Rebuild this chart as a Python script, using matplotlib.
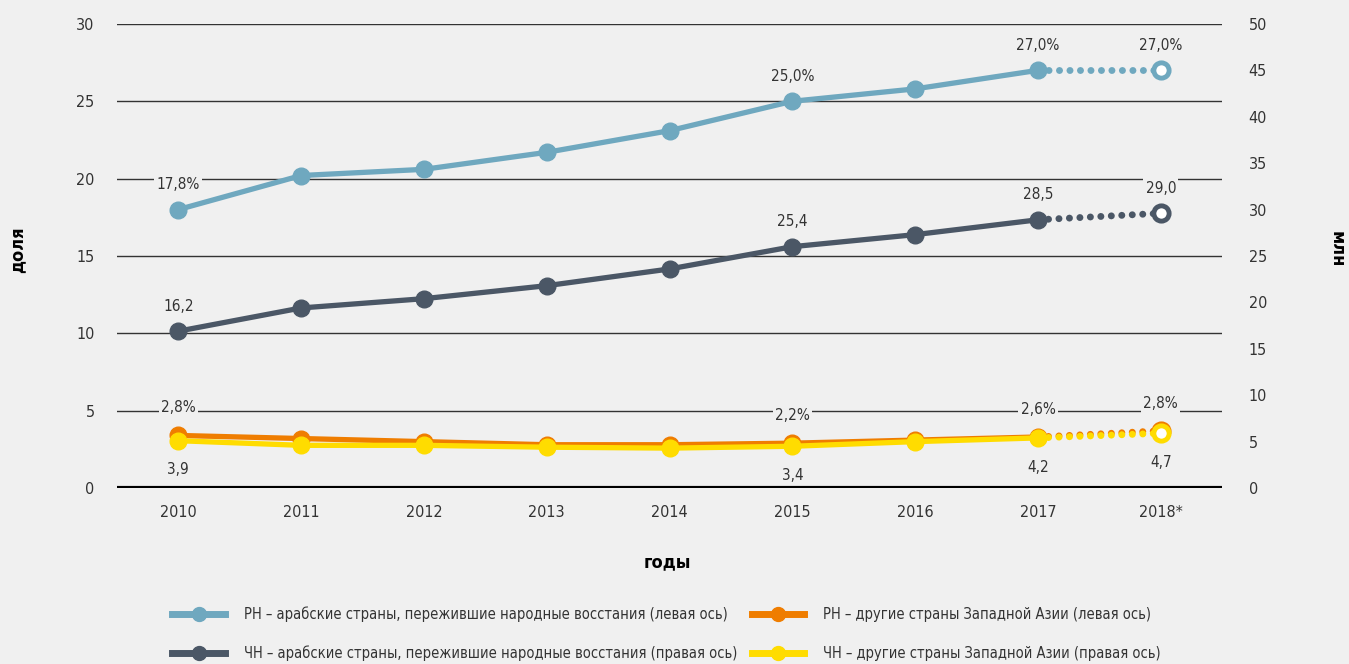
import matplotlib
matplotlib.use('Agg')
import matplotlib.pyplot as plt
from matplotlib.lines import Line2D

plt.rcParams['font.family'] = ['DejaVu Sans']
plt.rcParams['font.stretch'] = 'condensed'

# данные
years = ['2010', '2011', '2012', '2013', '2014', '2015', '2016', '2017', '2018*']
rn_arab = [18.0, 20.2, 20.6, 21.7, 23.1, 25.0, 25.8, 27.0, 27.0]      # левая ось
chn_arab = [16.9, 19.4, 20.4, 21.8, 23.6, 26.0, 27.3, 28.9, 29.6]     # правая ось
rn_other = [3.4, 3.2, 3.0, 2.8, 2.8, 2.9, 3.1, 3.3, 3.7]              # левая ось
chn_other = [5.1, 4.6, 4.6, 4.4, 4.3, 4.5, 5.0, 5.4, 5.9]             # правая ось

rn_arab_lbl = {0: '17,8%', 5: '25,0%', 7: '27,0%', 8: '27,0%'}
chn_arab_lbl = {0: '16,2', 5: '25,4', 7: '28,5', 8: '29,0'}
rn_other_lbl = {0: '2,8%', 5: '2,2%', 7: '2,6%', 8: '2,8%'}
chn_other_lbl = {0: '3,9', 5: '3,4', 7: '4,2', 8: '4,7'}

legend_labels = ['РН – арабские страны, пережившие народные восстания (левая ось)',
                 'ЧН – арабские страны, пережившие народные восстания (правая ось)',
                 'РН – другие страны Западной Азии (левая ось)',
                 'ЧН – другие страны Западной Азии (правая ось)']

c_blue = '#6fa8bf'
c_dark = '#4b5766'
c_orange = '#ef7d00'
c_yellow = '#ffdc00'
bg = '#f0f0f0'

fig = plt.figure(figsize=(13.49, 6.64), dpi=100, facecolor=bg)
ax = fig.add_axes([0.0867, 0.265, 0.8193, 0.699])
ax.set_facecolor(bg)
ax2 = ax.twinx()

x = list(range(len(years)))


def draw(axis, vals, color, z):
    axis.plot(x[:-1], vals[:-1], color=color, lw=3.8, marker='o', ms=12,
              zorder=z, solid_capstyle='round')
    axis.plot(x[-2:], vals[-2:], color=color, lw=5, linestyle=(0, (0.01, 1.5)),
              dash_capstyle='round', zorder=z - 0.5)
    axis.plot(x[-1], vals[-1], marker='o', ms=11, mfc='white', mec=color,
              mew=3.5, zorder=z + 0.5, linestyle='none')


def labels(axis, vals, lbls, dy):
    for i, t in lbls.items():
        axis.annotate(t, (x[i], vals[i]), xytext=(0, dy), textcoords='offset points',
                      ha='center', va='center', fontsize=11, color='#333333',
                      bbox=dict(boxstyle='square,pad=0.15', fc=bg, ec='none'),
                      zorder=20)


draw(ax, rn_arab, c_blue, 5)
draw(ax, rn_other, c_orange, 5)
draw(ax2, chn_arab, c_dark, 5)
draw(ax2, chn_other, c_yellow, 6)

labels(ax, rn_arab, rn_arab_lbl, 18)
labels(ax, rn_other, rn_other_lbl, 20)
labels(ax2, chn_arab, chn_arab_lbl, 18)
labels(ax2, chn_other, chn_other_lbl, -21)

ax.set_xlim(-0.5, 8.5)
ax.set_ylim(0, 30)
ax2.set_ylim(0, 50)
ax.set_yticks(range(0, 31, 5))
ax2.set_yticks(range(0, 51, 5))
ax.set_xticks(x)
ax.set_xticklabels(years)

for a in (ax, ax2):
    for s in a.spines.values():
        s.set_visible(False)
    a.tick_params(length=0, labelsize=11.5, colors='#333333')
ax.tick_params(axis='y', pad=16)
ax2.tick_params(axis='y', pad=19)
ax.tick_params(axis='x', pad=12)

for v in range(5, 31, 5):
    ax.axhline(v, color='#333333', lw=1, zorder=1)
ax.axhline(0, color='black', lw=3, zorder=2)

fig.text(0.013, 0.624, 'доля', rotation=90, ha='center', va='center',
         fontsize=13, fontweight='bold', color='black')
fig.text(0.991, 0.624, 'млн', rotation=270, ha='center', va='center',
         fontsize=13, fontweight='bold', color='black')
fig.text(0.495, 0.153, 'годы', ha='center', va='center',
         fontsize=13, fontweight='bold', color='black')

handles = []
for c in (c_blue, c_dark, c_orange, c_yellow):
    handles.append(Line2D([0], [0], color=c, lw=5, marker='o', ms=10))
fig.legend(handles, legend_labels, ncol=2, loc='center left',
           bbox_to_anchor=(0.118, 0.045), frameon=False, fontsize=10.5,
           handlelength=3.6, handletextpad=1.3, columnspacing=1.0,
           labelspacing=1.6, labelcolor='#333333')

fig.savefig('out.png', dpi=100, facecolor=bg)
